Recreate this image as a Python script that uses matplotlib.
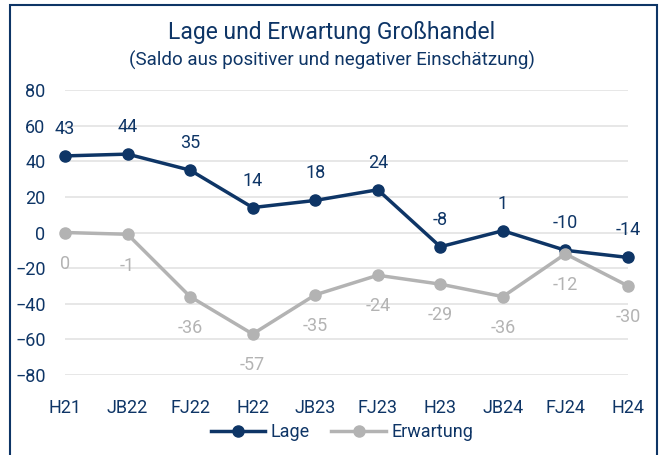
import matplotlib.pyplot as plt
from matplotlib.patches import Rectangle

# data
categories = ["H21", "JB22", "FJ22", "H22", "JB23", "FJ23", "H23", "JB24", "FJ24", "H24"]
lage = [43, 44, 35, 14, 18, 24, -8, 1, -10, -14]
erwartung = [0, -1, -36, -57, -35, -24, -29, -36, -12, -30]

navy = "#0e3566"
grey = "#b3b3b3"
plt.rcParams['font.family'] = ['Roboto', 'DejaVu Sans']

W, H = 664, 455
fig = plt.figure(figsize=(W / 100, H / 100), dpi=100)
ax = fig.add_axes([65 / W, 1 - 375 / H, (628 - 65) / W, (375 - 90) / H])

x = list(range(len(categories)))
ax.plot(x, lage, color=navy, lw=2.5, marker="o", ms=8, label="Lage", clip_on=False, zorder=3)
ax.plot(x, erwartung, color=grey, lw=2.5, marker="o", ms=8, label="Erwartung", clip_on=False, zorder=3)

for xi, v in zip(x, lage):
    ax.annotate(str(v), (xi, v), xytext=(0, 13), textcoords="offset points",
                ha="center", va="bottom", color=navy, fontsize=13)
for xi, v in zip(x, erwartung):
    ax.annotate(str(v), (xi, v), xytext=(0, -16), textcoords="offset points",
                ha="center", va="top", color=grey, fontsize=13)

ax.set_xlim(0, 9)
ax.set_ylim(-80, 80)
ax.set_yticks(range(-80, 81, 20))
ax.set_xticks(x)
ax.set_xticklabels(categories)
ax.tick_params(axis="both", length=0, colors=navy, labelsize=13)
ax.tick_params(axis="y", pad=14)
ax.tick_params(axis="x", pad=17)
ax.grid(axis="y", color="#e3e3e3", lw=1.2)
for s in ax.spines.values():
    s.set_visible(False)

fig.text(0.5, 1 - 32 / H, "Lage und Erwartung Großhandel", ha="center", va="center",
         color=navy, fontsize=16.5)
fig.text(0.5, 1 - 60 / H, "(Saldo aus positiver und negativer Einschätzung)", ha="center",
         va="center", color=navy, fontsize=13.5)

leg = fig.legend(loc="center", bbox_to_anchor=(342 / W, 1 - 432 / H), ncol=2, frameon=False,
                 fontsize=13, handlelength=3, columnspacing=1.2, handletextpad=0.3)
for t in leg.get_texts():
    t.set_color(navy)

fig.patches.append(Rectangle((10 / W, -0.05), (657 - 10) / W, 1 - 5 / H + 0.05,
                             transform=fig.transFigure, fill=False, ec=navy, lw=1.5))

fig.savefig("out.png", dpi=100)
